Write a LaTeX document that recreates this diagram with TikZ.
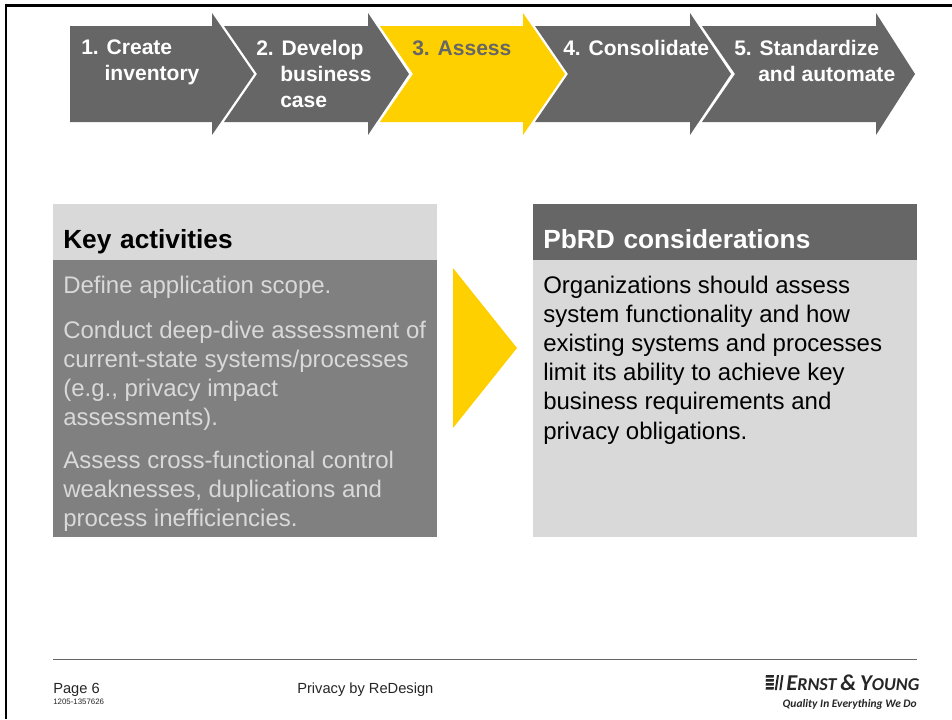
\documentclass[tikz,border=0pt]{standalone}
\usepackage{fontspec}
\setmainfont{Liberation Sans}
\newfontfamily\logofont{Carlito}
\definecolor{darkgrey}{HTML}{666666}
\definecolor{midgrey}{HTML}{808080}
\definecolor{lightgrey}{HTML}{D9D9D9}
\definecolor{eyyellow}{HTML}{FFD000}
\tikzset{
  chevron/.style = {fill=darkgrey,draw=none},
  steplabel/.style = {anchor=north west,inner sep=0,align=left,text=white,execute at begin node=\strut,font=\fontsize{15.8}{19.3}\selectfont\bfseries},
  panelhead/.style = {anchor=north west,inner sep=0,minimum width=288pt,minimum height=42pt,text width=273pt,text height=33pt,text depth=9pt,align=left,font=\fontsize{19.7}{23}\selectfont\bfseries},
  panelbody/.style = {anchor=north west,inner sep=0,minimum width=288pt,minimum height=207.75pt},
  paneltext/.style = {anchor=north west,inner sep=0,align=left,execute at begin node=\strut,font=\fontsize{18}{21.8}\selectfont},
  foot/.style = {anchor=base west,inner sep=0,text=black!85,font=\fontsize{11}{12}\selectfont}
}
\begin{document}
\begin{tikzpicture}[x=0.75pt,y=-0.75pt]
  \useasboundingbox (0,0) rectangle (952,719);
  \fill[white] (0,0) rectangle (952,719);
  % frame
  \fill[black] (5,4) rectangle (952,7);
  \fill[black] (5,4) rectangle (7,719);

  % process arrows
  \fill[chevron] (70,26) -- (212,26) -- (212,13) -- (254,74) -- (212,135) -- (212,122) -- (70,122) -- cycle;
  \foreach \l/\b/\t/\c in {224/368/409/darkgrey, 380/523/565/eyyellow, 535/690/731/darkgrey, 702/876/915/darkgrey} {
    \fill[chevron,fill=\c] (\l,26) -- (\b,26) -- (\b,13) -- (\t,74) -- (\b,135) -- (\b,122) -- (\l,122) -- (\l+33,74) -- cycle;
  }
  \node [steplabel] (create)  at ( 81, 40) {1. Create\\\hspace*{17.5pt}inventory};
  \node [steplabel] (develop) at (256, 40) {2. Develop\\\hspace*{18pt}business\\\hspace*{18pt}case};
  \node [steplabel,text=darkgrey] (assess) at (412, 37) {3. Assess};
  \node [steplabel] (consolidate) at (563, 37) {4. Consolidate};
  \node [steplabel] (standardize) at (734, 40) {5. Standardize\\\hspace*{18pt}and automate};

  % panels
  \node [panelhead,fill=lightgrey] (keyhead) at (53,204) {Key activities};
  \node [panelbody,fill=midgrey]   (keybody) at (53,260) {};
  \node [panelhead,fill=darkgrey,text=white] (pbrdhead) at (533,204) {PbRD considerations};
  \node [panelbody,fill=lightgrey] (pbrdbody) at (533,260) {};
  \fill[eyyellow] (453,268) -- (517,348) -- (453,428) -- cycle;

  \node [paneltext,text=lightgrey] (scope) at (63,273) {Define application scope.};
  \node [paneltext,text=lightgrey] (deepdive) at (63,321) {Conduct deep-dive assessment of\\current-state systems/processes\\(e.g., privacy impact\\assessments).};
  \node [paneltext,text=lightgrey] (crossfunc) at (63,451) {Assess cross-functional control\\weaknesses, duplications and\\process inefficiencies.};
  \node [paneltext] (assesstext) at (543,276) {Organizations should assess\\system functionality and how\\existing systems and processes\\limit its ability to achieve key\\business requirements and\\privacy obligations.};

  % footer
  \coordinate (footleft) at (53,659);
  \coordinate (footright) at (917,659);
  \draw [darkgrey,line width=0.75pt] (footleft) -- (footright);
  \node [foot] (page) at (53,693) {Page 6};
  \node [foot,font=\fontsize{5.9}{6}\selectfont] (jobno) at (53,704) {1205-1357626};
  \node [foot] (title) at (297,693) {Privacy by ReDesign};

  % logo
  \foreach \y in {675,679,683,687} {
    \fill[black!85] (766,\y) -- ++(8,0) -- ++(-0.4,2.5) -- ++(-8,0) -- cycle;
  }
  \fill[black!85] (777,675) -- ++(2,0) -- ++(-2.2,15) -- ++(-2,0) -- cycle;
  \fill[black!85] (781.5,675) -- ++(2,0) -- ++(-2.2,15) -- ++(-2,0) -- cycle;
  \node [anchor=base west,inner sep=0,text=black!85,font=\logofont\itshape\bfseries\fontsize{17}{18}\selectfont] (eyname) at (786,690) {E\scalebox{0.8}{RNST}\,\&\,Y\scalebox{0.8}{OUNG}};
  \node [anchor=base east,inner sep=0,text=black!85,font=\logofont\itshape\bfseries\fontsize{8.6}{10}\selectfont] (eyline) at (917,707) {Quality In Everything We Do};
\end{tikzpicture}
\end{document}
